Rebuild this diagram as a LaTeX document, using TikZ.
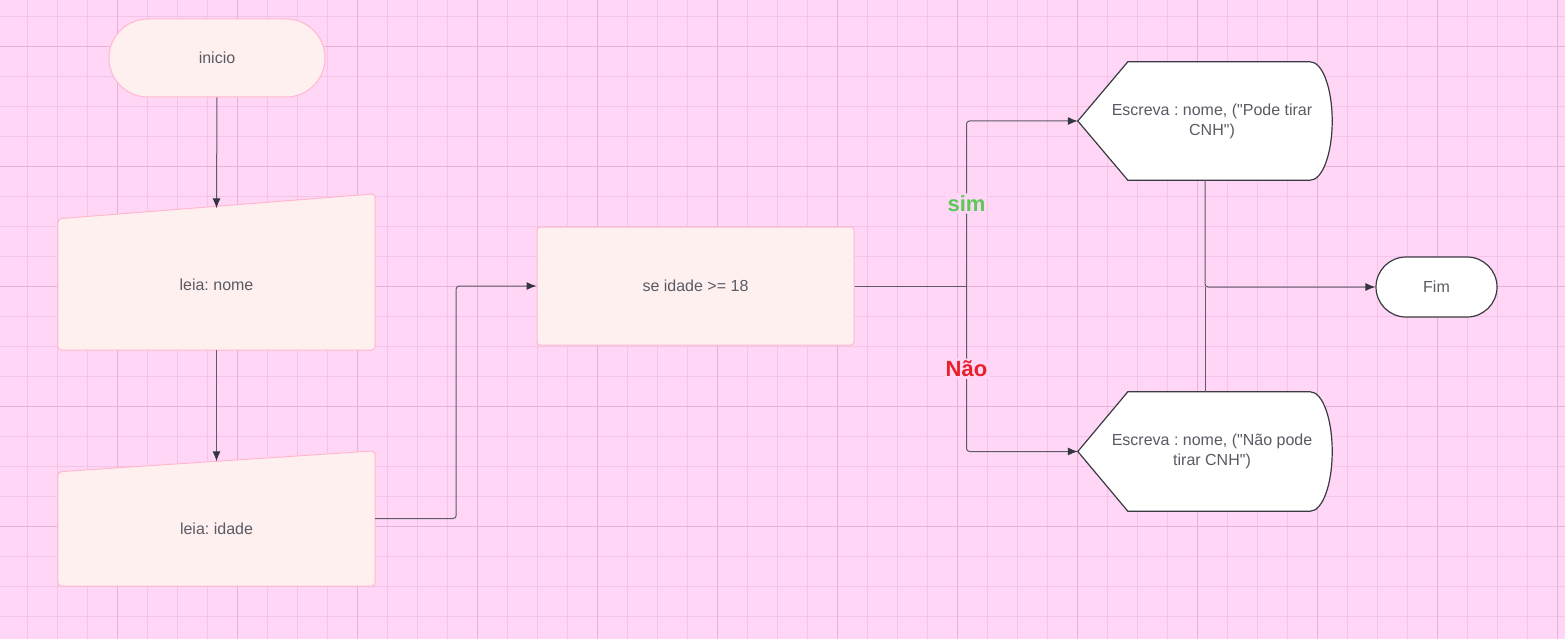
\documentclass[tikz,border=0pt]{standalone}
\usepackage{fontspec}
\setmainfont[Ligatures=TeXOff]{Liberation Sans}
\frenchspacing
\usetikzlibrary{arrows.meta,backgrounds}
\definecolor{bgpink}{HTML}{FFD6F5}
\definecolor{gridminor}{HTML}{F3C4E8}
\definecolor{gridmajor}{HTML}{E6B2D8}
\definecolor{nodefill}{HTML}{FFF0F0}
\definecolor{nodeborder}{HTML}{FFB8CF}
\definecolor{textgray}{HTML}{5A5A64}
\definecolor{linegray}{HTML}{5E5A6A}
\definecolor{tipgray}{HTML}{33363F}
\definecolor{outline}{HTML}{3A3A42}
\definecolor{simgreen}{HTML}{5CC85A}
\definecolor{naored}{HTML}{E8202A}

\begin{document}
\begin{tikzpicture}[x=1pt,y=-1pt,
  txt/.style={text=textgray,font=\fontsize{16}{20}\selectfont,align=center},
  pinkbox/.style={txt,draw=nodeborder,fill=nodefill,line width=1pt},
  whitebox/.style={txt,draw=outline,fill=white,line width=1.2pt},
  holder/.style={txt,inner sep=0pt},
  line/.style={draw=linegray,line width=1pt,rounded corners=3pt},
  flow/.style={line,-{Latex[length=10pt,width=8pt,color=tipgray]}},
  answer/.style={font=\bfseries\fontsize{22}{24}\selectfont,fill=bgpink,inner sep=2pt}]
\useasboundingbox (0,0) rectangle (1565,639);
\node[pinkbox,minimum width=216pt,minimum height=78pt,rounded corners=39pt] (inicio) at (217,58) {inicio};
\node[holder,minimum width=317pt,minimum height=131pt] (nome) at (216.5,284.5) {leia: nome};
\node[holder,minimum width=317pt,minimum height=114pt] (idade) at (216.5,529) {leia: idade};
\node[pinkbox,minimum width=317pt,minimum height=118pt,rounded corners=3pt] (dec) at (695.5,286) {se idade >= 18};
\node[holder,minimum width=240pt,minimum height=118pt] (psim) at (1212,121) {Escreva : nome, ("Pode tirar\\CNH")};
\node[holder,minimum width=240pt,minimum height=119pt] (pnao) at (1212,451.5) {Escreva : nome, ("Não pode\\tirar CNH")};
\node[whitebox,minimum width=121pt,minimum height=60pt,rounded corners=30pt] (fim) at (1436.5,287) {Fim};
\coordinate (split) at ([xshift=112pt]dec.east);
% connectors
\draw[flow] (inicio.south) -- ([yshift=10.5pt]nome.north);
\draw[flow] (nome.south) -- ([yshift=10.5pt]idade.north);
\draw[flow] ([yshift=10.5pt]idade.east) -- ++(81,0) |- (dec.west);
\draw[line] (dec.east) -- (split);
\draw[flow] (split) |- node[pos=.25,answer,text=simgreen] (sim) {sim} ([xshift=-14pt]psim.west);
\draw[flow] (split) |- node[pos=.25,answer,text=naored] (nao) {Não} ([xshift=-14pt]pnao.west);
\draw[flow] ([xshift=-7pt]psim.south) |- (fim.west);
\draw[line] ([xshift=-7pt]pnao.north) -- ([xshift=-7pt]pnao.north |- fim.west);
% background, grid and drawn shapes
\begin{scope}[on background layer]
\fill[bgpink] (0,0) rectangle (1565,639);
\foreach \x in {27,57,...,1557} \draw[gridminor,line width=.8pt] (\x,0) -- (\x,639);
\foreach \y in {16,46,...,636} \draw[gridminor,line width=.8pt] (0,\y) -- (1565,\y);
\foreach \x in {117,237,...,1557} \draw[gridmajor,line width=.8pt] (\x,0) -- (\x,639);
\foreach \y in {46,166,...,526} \draw[gridmajor,line width=.8pt] (0,\y) -- (1565,\y);
\draw[nodeborder,fill=nodefill,line width=1pt,rounded corners=4pt] (nome.south west) -- (nome.north west) -- ([yshift=25pt]nome.north east) -- (nome.south east) -- cycle;
\draw[nodeborder,fill=nodefill,line width=1pt,rounded corners=4pt] (idade.south west) -- (idade.north west) -- ([yshift=21pt]idade.north east) -- (idade.south east) -- cycle;
\foreach \p in {psim,pnao}
\draw[outline,fill=white,line width=1.2pt] ([xshift=-14pt]\p.west) -- ([xshift=36pt]\p.north west) -- ([xshift=-22pt]\p.north east)
  .. controls ([xshift=-9.8pt]\p.north east) and ([yshift=-26.4pt]\p.north east) .. (\p.east)
  .. controls ([yshift=26.4pt]\p.south east) and ([xshift=-9.8pt]\p.south east) .. ([xshift=-22pt]\p.south east)
  -- ([xshift=36pt]\p.south west) -- cycle;
\end{scope}
\end{tikzpicture}
\end{document}
